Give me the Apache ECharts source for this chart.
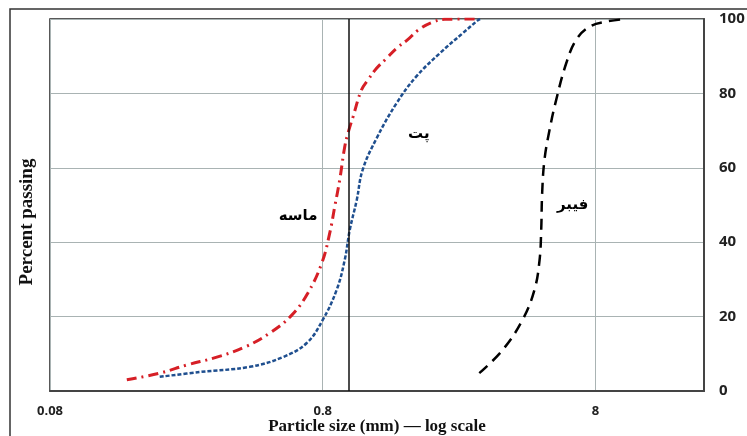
<!DOCTYPE html>
<html><head><meta charset="utf-8">
<script src="https://cdn.jsdelivr.net/npm/echarts@6/dist/echarts.min.js"></script>
<style>html,body{margin:0;padding:0;background:#fff}#c{width:747px;height:436px}</style>
</head><body><div id="c"></div>
<script>
// Sand (ماسه)
const sandX = [0.153, 0.202, 0.254, 0.327, 0.414, 0.512, 0.616, 0.705, 0.794, 0.849, 0.885, 0.923, 0.963, 0.99, 1.033, 1.109, 1.172, 1.258, 1.37, 1.49, 1.643, 1.79, 2.0, 2.24, 2.93];
const sandY = [3.0, 4.8, 7.0, 9.1, 11.8, 15.6, 20.4, 26.3, 34.4, 42.5, 49.5, 56.7, 65.6, 69.3, 73.7, 80.9, 83.6, 86.7, 89.4, 92.1, 94.5, 97.0, 99.0, 99.9, 100];
// PET (پت)
const petX = [0.202, 0.283, 0.432, 0.571, 0.699, 0.8, 0.9, 0.963, 1.005, 1.066, 1.12, 1.26, 1.49, 1.76, 2.15, 2.61, 2.97, 3.02];
const petY = [3.8, 5.1, 6.5, 9.1, 12.9, 19.1, 27.2, 35.2, 43.3, 51.3, 59.4, 67.9, 77.3, 84.5, 90.8, 96.2, 99.7, 100];
// Fiber (فیبر)
const fibX = [3.0, 3.65, 4.32, 4.78, 4.99, 5.06, 5.1, 5.2, 5.43, 5.74, 6.25, 6.8, 7.6, 8.75, 10.1];
const fibY = [4.8, 11, 19.1, 27.2, 35.2, 43.3, 53.1, 62.1, 70.2, 78.2, 88.1, 94.4, 97.9, 99.3, 99.9];
const xTicks = [0.08, 0.8, 8];
const yTicks = [0, 20, 40, 60, 80, 100];
const refX = 1.0;
const labels = [
  {name: 'ماسه', x: 0.65, y: 47},
  {name: 'پت', x: 1.8, y: 69},
  {name: 'فیبر', x: 6.6, y: 50}
];

const zip = (xs, ys) => xs.map((v, i) => [v, ys[i]]);
const chart = echarts.init(document.getElementById('c'), null, {renderer: 'canvas'});
const lblStyle = {fontFamily: 'DejaVu Sans', fontWeight: 'bold', fontSize: 15, color: '#000'};
function mp(l) {
  return {symbol: 'circle', symbolSize: 0, silent: true,
    label: Object.assign({show: true, formatter: l.name, position: 'inside'}, lblStyle),
    data: [{coord: [l.x, l.y]}]};
}
chart.setOption({
  animation: false,
  backgroundColor: '#fff',
  grid: {left: 50, right: 43, top: 19, bottom: 45, outerBoundsMode: 'none', containLabel: false,
    show: true, borderColor: '#222', borderWidth: 1.5},
  xAxis: {
    type: 'log', logBase: 10, min: 0.08, max: 20,
    name: 'Particle size (mm) — log scale', nameLocation: 'middle', nameGap: 27, nameMoveOverlap: false,
    nameTextStyle: {fontFamily: 'Liberation Serif', fontWeight: 'bold', fontSize: 17, color: '#111'},
    axisLine: {show: true, lineStyle: {color: '#444', width: 2}},
    axisTick: {show: false, customValues: xTicks},
    axisLabel: {customValues: xTicks, formatter: v => String(+(+v).toPrecision(3)), margin: 14,
      fontFamily: 'Open Sans', fontWeight: 'bold', fontSize: 13, color: '#222'},
    splitLine: {show: true, lineStyle: {color: '#a9b3b3', width: 1}}
  },
  yAxis: {
    type: 'value', position: 'right', min: 0, max: 100, interval: 20,
    axisLine: {show: true, lineStyle: {color: '#444', width: 2}},
    axisTick: {show: false},
    axisLabel: {margin: 15, fontFamily: 'Open Sans', fontWeight: 'bold', fontSize: 15, color: '#222'},
    splitLine: {show: true, lineStyle: {color: '#a9b3b3', width: 1}}
  },
  graphic: [
    {type: 'rect', shape: {x: 10, y: 9, width: 800, height: 500}, style: {fill: 'none', stroke: '#333', lineWidth: 1.5}, silent: true, z: -1},
    {type: 'text', x: 27, y: 222, rotation: Math.PI / 2, style: {text: 'Percent passing', fontFamily: 'Liberation Serif', fontWeight: 'bold', fontSize: 19, fill: '#111', textAlign: 'center', textVerticalAlign: 'middle'}}
  ],
  series: [
    {type: 'line', data: zip(sandX, sandY), smooth: 0.4, symbol: 'none',
      lineStyle: {color: '#d61f26', width: 3, type: [10, 5, 2, 5]}, markPoint: mp(labels[0]),
      markLine: {silent: true, symbol: 'none', label: {show: false}, lineStyle: {color: '#111', width: 1.5, type: 'solid'}, data: [{xAxis: refX}]}},
    {type: 'line', data: zip(petX, petY), smooth: 0.4, symbol: 'none',
      lineStyle: {color: '#1f4f8f', width: 2.5, type: [4, 2]}, markPoint: mp(labels[1])},
    {type: 'line', data: zip(fibX, fibY), smooth: 0.4, symbol: 'none',
      lineStyle: {color: '#000', width: 2.5, type: [11, 7]}, markPoint: mp(labels[2])}
  ]
});
</script></body></html>
